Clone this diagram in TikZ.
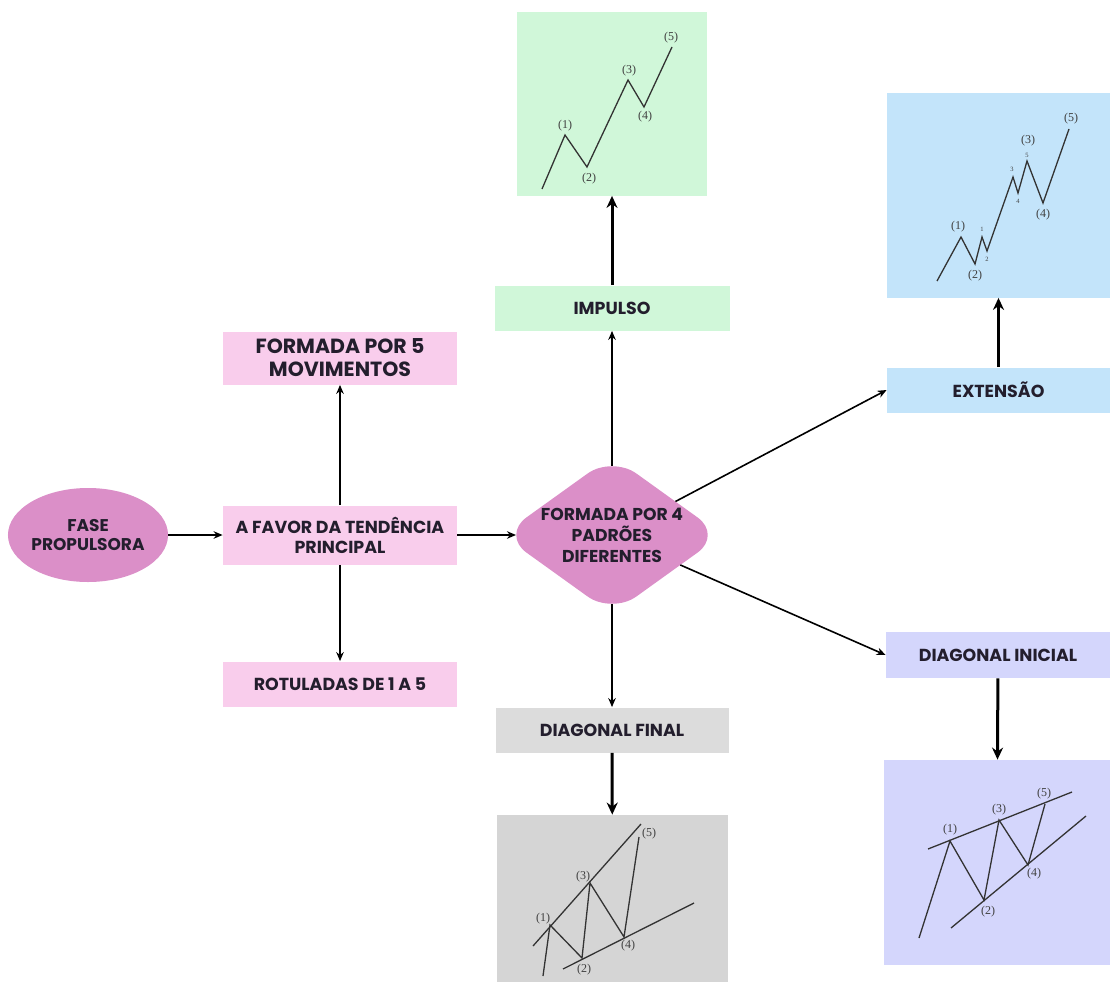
\documentclass[tikz,border=0pt]{standalone}
\usepackage{fontspec}
\setmainfont{Poppins}
\newfontfamily\chartfont{Liberation Serif}
\usetikzlibrary{arrows.meta, positioning, shapes.geometric}

\definecolor{rosaforte}{RGB}{219,143,200}
\definecolor{rosaclaro}{RGB}{249,205,236}
\definecolor{verdeclaro}{RGB}{208,247,217}
\definecolor{azulclaro}{RGB}{195,228,250}
\definecolor{lilasclaro}{RGB}{212,214,252}
\definecolor{cinzaclaro}{RGB}{220,220,220}
\definecolor{tinta}{RGB}{35,30,45}

\begin{document}
\begin{tikzpicture}[x=1pt, y=-1pt, >=Stealth, thick,
    box/.style={rectangle, minimum width=234pt, minimum height=45pt, inner sep=0pt,
        align=center, text=tinta, font=\fontsize{17.4}{20}\selectfont\bfseries},
    quadro/.style={rectangle, inner sep=0pt},
    seta/.style={->, line width=1.6pt, >={Stealth[length=9pt, width=7.5pt]}},
    setagrossa/.style={->, line width=3pt, >={Stealth[length=12pt, width=11pt]}},
    onda/.style={line width=1.3pt, draw=black!80},
    rot/.style={font=\chartfont\fontsize{12}{12}\selectfont, inner sep=0pt, text=black!75},
    rotp/.style={font=\chartfont\fontsize{6.5}{6.5}\selectfont, inner sep=0pt, text=black!75}]
    \useasboundingbox (0,0) rectangle (1110,982);
    \fill[white] (0,0) rectangle (1110,982);

    % Fase propulsora (esquerda)
    \node (FP) [ellipse, fill=rosaforte, minimum width=156pt, minimum height=94pt, inner sep=0pt,
        align=center, text=tinta, font=\fontsize{17}{19}\selectfont\bfseries] at (88, 535) {FASE\\PROPULSORA};
    \node (AF) [box, fill=rosaclaro, minimum height=59pt] at (340, 535) {A FAVOR DA TENDÊNCIA\\PRINCIPAL};
    \node (FM) [box, fill=rosaclaro, minimum height=53pt, font=\fontsize{20.5}{23}\selectfont\bfseries] at (340, 358) {FORMADA POR 5\\MOVIMENTOS};
    \node (RT) [box, fill=rosaclaro] at (340, 684) {ROTULADAS DE 1 A 5};
    \draw[seta] (FP) -- (AF);
    \draw[seta] (AF) -- (FM);
    \draw[seta] (AF) -- (RT);

    % Padrões (centro)
    \node (B) [diamond, rounded corners=30pt, fill=rosaforte, minimum width=220pt, minimum height=158pt,
        inner sep=0pt, outer sep=0pt] at (612, 535) {};
    \node (BT) [align=center, text=tinta, font=\fontsize{17.2}{21}\selectfont\bfseries] at (B) {FORMADA POR 4\\PADRÕES\\DIFERENTES};
    \draw[seta] (AF) -- ([xshift=14pt]B.west);

    \node (IMP) [box, fill=verdeclaro, minimum width=235pt] at (612, 308) {IMPULSO};
    \node (DF) [box, fill=cinzaclaro, minimum width=233pt] at (612, 730) {DIAGONAL FINAL};
    \node (EXT) [box, fill=azulclaro, minimum width=223pt] at (998.5, 390) {EXTENSÃO};
    \node (DI) [box, fill=lilasclaro, minimum width=224pt, minimum height=46pt] at (998, 655) {DIAGONAL INICIAL};
    \draw[seta] ([yshift=-10pt]B.north) -- (IMP);
    \draw[seta] ([yshift=10pt]B.south) -- (DF);
    \draw[seta] (B) -- (EXT.west);
    \draw[seta] (B) -- (DI.west);

    % Gráficos das ondas
    \node (GR) [quadro, fill=verdeclaro, minimum width=190pt, minimum height=183pt] at (612, 104) {};
    \node (BL) [quadro, fill=azulclaro, minimum width=223pt, minimum height=205pt] at (998.5, 195) {};
    \node (GY) [quadro, fill=cinzaclaro!97!black, minimum width=231pt, minimum height=167pt] at (612.5, 898.5) {};
    \node (PU) [quadro, fill=lilasclaro, minimum width=226pt, minimum height=205pt] at (997, 862.5) {};
    \draw[setagrossa] (IMP) -- (GR);
    \draw[setagrossa] (EXT) -- (BL);
    \draw[setagrossa] (DI) -- (PU);
    \draw[setagrossa] (DF) -- (GY);

    % Impulso
    \draw[onda] (542,189) -- (565,135) -- (587,167) -- (628,80) -- (644,107) -- (672,47);
    \node[rot] at (565,126) {(1)};
    \node[rot] at (589,179) {(2)};
    \node[rot] at (629,71) {(3)};
    \node[rot] at (645,117) {(4)};
    \node[rot] at (671,38) {(5)};

    % Extensão
    \draw[onda] (937,281) -- (961,237) -- (975,264) -- (982,237) -- (987,251) -- (1013,177)
        -- (1018,193) -- (1027,161) -- (1043,203) -- (1069,129);
    \node[rot] at (958,227) {(1)};
    \node[rot] at (975,276) {(2)};
    \node[rot] at (1028,141) {(3)};
    \node[rot] at (1043,215) {(4)};
    \node[rot] at (1071,119) {(5)};
    \node[rotp] at (982,229) {1};
    \node[rotp] at (987,259) {2};
    \node[rotp] at (1012,169) {3};
    \node[rotp] at (1018,201) {4};
    \node[rotp] at (1027,155) {5};

    % Diagonal final
    \draw[onda] (533,946) -- (641,824);
    \draw[onda] (563,969) -- (694,903);
    \draw[onda] (543,976) -- (550,925) -- (582,958) -- (590,883) -- (624,937) -- (639,837);
    \node[rot] at (543,919) {(1)};
    \node[rot] at (584,970) {(2)};
    \node[rot] at (583,877) {(3)};
    \node[rot] at (628,946) {(4)};
    \node[rot] at (649,834) {(5)};

    % Diagonal inicial
    \draw[onda] (928,849) -- (1072,792);
    \draw[onda] (951,928) -- (1086,816);
    \draw[onda] (919,938) -- (950,841) -- (984,900) -- (999,820) -- (1028,865) -- (1045,804);
    \node[rot] at (950,830) {(1)};
    \node[rot] at (988,912) {(2)};
    \node[rot] at (999,810) {(3)};
    \node[rot] at (1034,874) {(4)};
    \node[rot] at (1044,794) {(5)};
\end{tikzpicture}
\end{document}
